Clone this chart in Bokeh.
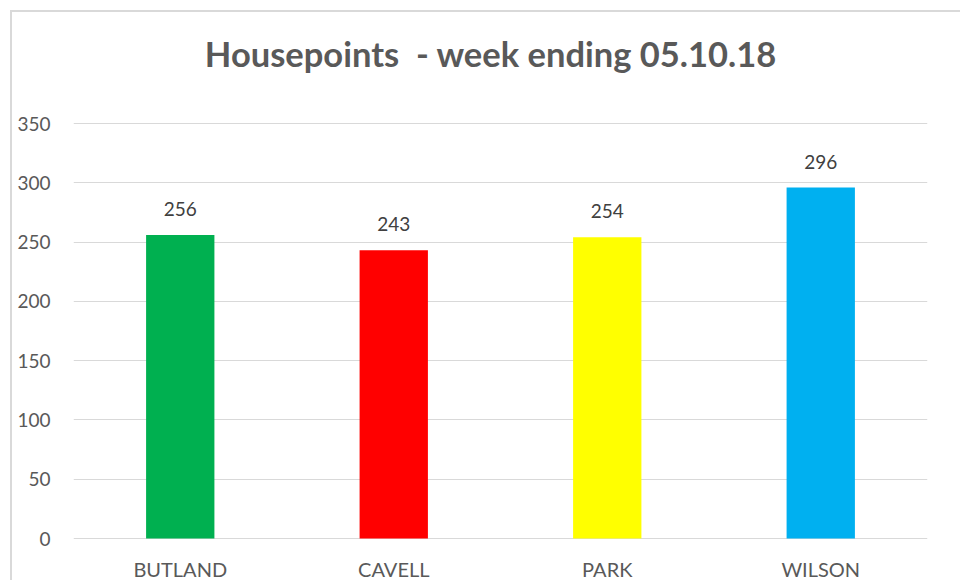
from bokeh.plotting import figure
from bokeh.models import ColumnDataSource, LabelSet, Range1d, FactorRange, FixedTicker
from bokeh.core.properties import value
from bokeh.transform import dodge
from bokeh.embed import file_html
from bokeh.resources import INLINE

houses = ["BUTLAND", "CAVELL", "PARK", "WILSON"]
points = [256, 243, 254, 296]
colors = ["#00B050", "#FF0000", "#FFFF00", "#00B0F0"]
y_ticks = [0, 50, 100, 150, 200, 250, 300, 350]
title_text = "Housepoints \u00a0- week ending 05.10.18"

source = ColumnDataSource(dict(
    house=houses,
    points=points,
    color=colors,
    label=[str(v) for v in points],
    zero=[0] * len(houses),
))

# frame spans the full picture height; value axis 0..350 sits at 538 px .. 123 px
px_per_unit = 415 / 350
y_start = -42 / px_per_unit
y_end = 538 / px_per_unit

p = figure(
    width=960, height=580,
    x_range=FactorRange(*houses, range_padding=0),
    y_range=Range1d(y_start, y_end),
    output_backend="svg", toolbar_location=None,
    min_border_left=73, min_border_right=33,
    min_border_top=0, min_border_bottom=0,
)

# chart-area border: only its left and top edges fall inside the picture
p.styles = {
    "background-image": "linear-gradient(#d9d9d9, #d9d9d9), linear-gradient(#d9d9d9, #d9d9d9)",
    "background-size": "2px 100%, 100% 2px",
    "background-position": "10px 10px, 10px 10px",
    "background-repeat": "no-repeat",
}
p.border_fill_color = None
p.background_fill_color = None
p.outline_line_color = None

p.vbar(x="house", top="points", width=0.32, fill_color="color", line_color=None, source=source)

p.xgrid.grid_line_color = None
p.ygrid.grid_line_color = "#d9d9d9"
p.ygrid.grid_line_width = 1
p.yaxis.ticker = FixedTicker(ticks=y_ticks)

p.yaxis.axis_line_color = None
p.yaxis.major_tick_line_color = None
p.yaxis.minor_tick_line_color = None
p.yaxis.major_tick_out = 0
p.yaxis.major_label_standoff = 23
p.yaxis.major_label_text_font = "Lato"
p.yaxis.major_label_text_font_size = "19px"
p.yaxis.major_label_text_color = "#595959"

p.xaxis.visible = False

# title
title_src = ColumnDataSource(dict(cat=["CAVELL"], y=[398], text=[title_text]))
title = LabelSet(x=dodge("cat", 0.455, range=p.x_range), y="y", text="text", source=title_src,
                 text_align="center", text_baseline="alphabetic",
                 text_font=value("Lato"), text_font_size=value("34.5px"),
                 text_font_style=value("bold"), text_color=value("#595959"))
p.add_layout(title)

# category labels
cat_labels = LabelSet(x="house", y="zero", text="house", source=source,
                      text_align="center", text_baseline="alphabetic", y_offset=-38,
                      text_font=value("Lato"), text_font_size=value("20px"),
                      text_color=value("#595959"))
p.add_layout(cat_labels)

# value labels
val_labels = LabelSet(x="house", y="points", text="label", source=source,
                      text_align="center", text_baseline="alphabetic", y_offset=19,
                      text_font=value("Lato"), text_font_size=value("19px"),
                      text_color=value("#404040"))
p.add_layout(val_labels)

open("out.html", "w").write(file_html(p, INLINE))
